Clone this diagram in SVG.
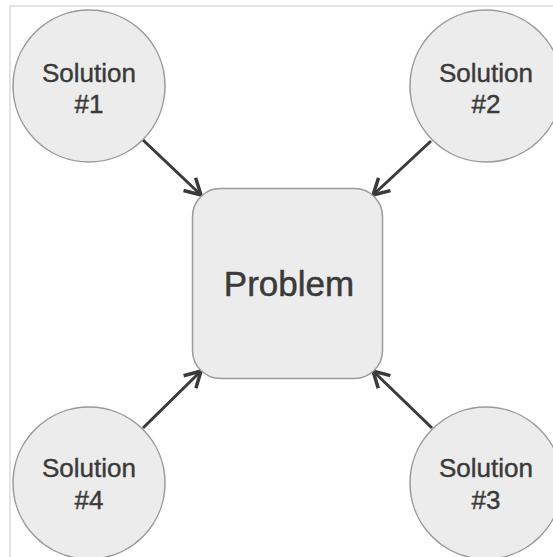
<svg xmlns="http://www.w3.org/2000/svg" width="553" height="557" viewBox="0 0 553 557">
  <style>
    .node { fill: #ececec; stroke: #9a9a9a; stroke-width: 1.5; }
    .lbl { font-family: "Liberation Sans", Arial, Helvetica, sans-serif; fill: #3a3a3a; stroke: #3a3a3a; stroke-width: 0.4; text-anchor: middle; }
    .sol { font-size: 26px; }
    .prob { font-size: 35px; stroke-width: 0.5; }
    .conn { stroke: #3a3a3a; stroke-width: 3; fill: none; marker-end: url(#arr); }
    .frame { stroke: #dcdcdc; stroke-width: 1.5; fill: none; }
  </style>
  <defs>
    <marker id="arr" viewBox="0 0 12 12" refX="10" refY="6" markerWidth="7" markerHeight="7" orient="auto" markerUnits="strokeWidth">
      <path d="M1,1 L10,6 L1,11" fill="none" stroke="#3a3a3a" stroke-width="2" stroke-linejoin="miter"/>
    </marker>
  </defs>
  <rect width="553" height="557" fill="#ffffff"/>
  <path class="frame" d="M10,557 L10,6 L553,6"/>
  <g id="connectors">
    <line class="conn" x1="143" y1="140" x2="201" y2="195"/>
    <line class="conn" x1="431" y1="141" x2="373" y2="195"/>
    <line class="conn" x1="143" y1="428" x2="201" y2="371"/>
    <line class="conn" x1="432" y1="428" x2="373" y2="371"/>
  </g>
  <g id="problem">
    <rect class="node" x="192.5" y="188.5" width="190" height="190" rx="28" ry="28"/>
    <text class="lbl prob" x="289" y="296">Problem</text>
  </g>
  <g id="solution1">
    <circle class="node" cx="89" cy="86" r="76"/>
    <text class="lbl sol" x="89" y="82">Solution</text>
    <text class="lbl sol" x="89" y="113">#1</text>
  </g>
  <g id="solution2">
    <circle class="node" cx="486" cy="86" r="76"/>
    <text class="lbl sol" x="486" y="82">Solution</text>
    <text class="lbl sol" x="486" y="113">#2</text>
  </g>
  <g id="solution3">
    <circle class="node" cx="486" cy="483" r="76"/>
    <text class="lbl sol" x="486" y="477">Solution</text>
    <text class="lbl sol" x="486" y="509">#3</text>
  </g>
  <g id="solution4">
    <circle class="node" cx="89" cy="483" r="76"/>
    <text class="lbl sol" x="89" y="477">Solution</text>
    <text class="lbl sol" x="89" y="509">#4</text>
  </g>
</svg>
